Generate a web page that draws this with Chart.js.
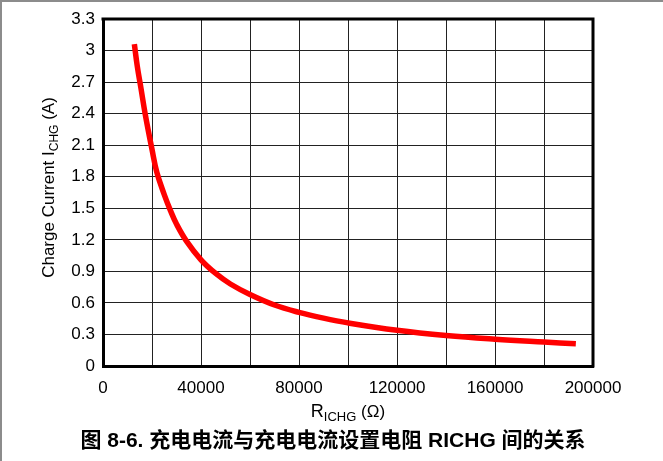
<!DOCTYPE html>
<html>
<head>
<meta charset="utf-8">
<script src="https://cdn.jsdelivr.net/npm/chart.js@4/dist/chart.umd.min.js"></script>
<style>
  html, body { margin: 0; padding: 0; background: #fff; }
  #wrap { position: relative; width: 663px; height: 461px; }
</style>
</head>
<body>
<div id="wrap"><canvas id="c" width="663" height="461"></canvas></div>
<script>
// Charge current versus the ICHG setting resistor
const resistanceOhm  = [12800, 14000, 15500, 17200, 20000, 22000, 25000, 27500, 30000, 34000, 40000, 46000, 52000, 60000, 70000, 80000, 90000, 100000, 120000, 140000, 160000, 180000, 193000];
const chargeCurrentA = [3.06, 2.85, 2.64, 2.40, 2.06, 1.84, 1.63, 1.48, 1.35, 1.19, 1.01, 0.88, 0.78, 0.68, 0.58, 0.51, 0.455, 0.41, 0.34, 0.29, 0.255, 0.228, 0.212];

// Vertical grid every 20000 ohm, labelled every 40000 ohm
const xGridValues = [0, 20000, 40000, 60000, 80000, 100000, 120000, 140000, 160000, 180000, 200000];
const xTickLabels = ['0', '40000', '80000', '120000', '160000', '200000'];
const yTickLabels = ['0', '0.3', '0.6', '0.9', '1.2', '1.5', '1.8', '2.1', '2.4', '2.7', '3', '3.3'];

const FONT = '"Liberation Sans", Arial, "Noto Sans CJK SC", sans-serif';

const points = resistanceOhm.map((r, i) => ({ x: r, y: chargeCurrentA[i] }));

// Draws the frame, the plot box top/right edges, axis titles with subscripts and the caption
const decorations = {
  id: 'decorations',
  beforeDraw(chart) {
    const ctx = chart.ctx;
    ctx.save();
    ctx.fillStyle = '#fff';
    ctx.fillRect(0, 0, chart.width, chart.height);
    ctx.fillStyle = '#8c8c8c';
    ctx.fillRect(0, 0, chart.width, 2);
    ctx.fillRect(0, 0, 2, chart.height);
    ctx.restore();
  },
  afterDraw(chart) {
    const ctx = chart.ctx;
    const a = chart.chartArea;
    ctx.save();
    // top and right edges of the plot box
    ctx.strokeStyle = '#000';
    ctx.lineWidth = 3;
    ctx.beginPath();
    ctx.moveTo(a.left - 1.5, a.top);
    ctx.lineTo(a.right, a.top);
    ctx.lineTo(a.right, a.bottom + 1.5);
    ctx.stroke();

    ctx.fillStyle = '#000';

    // y-axis title: Charge Current I_CHG (A)
    const yParts = [
      { t: 'Charge Current I', f: '17px ' + FONT, dy: 0 },
      { t: 'CHG', f: '12px ' + FONT, dy: 4 },
      { t: ' (A)', f: '17px ' + FONT, dy: 0 }
    ];
    drawRun(ctx, yParts, 48, (a.top + a.bottom) / 2 - 5, true);

    // x-axis title: R_ICHG (Ω)
    const xParts = [
      { t: 'R', f: '18px ' + FONT, dy: 0 },
      { t: 'ICHG', f: '13px ' + FONT, dy: 4 },
      { t: ' (Ω)', f: '17px ' + FONT, dy: 0 }
    ];
    drawRun(ctx, xParts, (a.left + a.right) / 2, 411, false);

    // caption
    ctx.font = 'bold 21px ' + FONT;
    ctx.textAlign = 'center';
    ctx.textBaseline = 'middle';
    ctx.fillText('图 8-6. 充电电流与充电电流设置电阻 RICHG 间的关系', 333, 441);
    ctx.restore();
  }
};

function drawRun(ctx, parts, cx, cy, vertical) {
  let total = 0;
  parts.forEach(p => { ctx.font = p.f; p.w = ctx.measureText(p.t).width; total += p.w; });
  ctx.save();
  ctx.translate(cx, cy);
  if (vertical) ctx.rotate(-Math.PI / 2);
  ctx.textAlign = 'left';
  ctx.textBaseline = 'alphabetic';
  let x = -total / 2;
  parts.forEach(p => {
    ctx.font = p.f;
    ctx.fillText(p.t, x, 6 + p.dy);
    x += p.w;
  });
  ctx.restore();
}

new Chart(document.getElementById('c'), {
  type: 'line',
  data: {
    datasets: [{
      data: points,
      borderColor: '#ff0000',
      borderWidth: 5.5,
      pointRadius: 0,
      fill: false,
      tension: 0.4
    }]
  },
  options: {
    responsive: false,
    animation: false,
    events: [],
    layout: { padding: { left: 0, right: 70, top: 19, bottom: 0 } },
    plugins: { legend: { display: false }, tooltip: { enabled: false } },
    scales: {
      x: {
        type: 'linear',
        min: 0,
        max: 200000,
        afterFit(s) { s.height = 95; },
        afterBuildTicks(s) { s.ticks = xGridValues.map(v => ({ value: v })); },
        ticks: {
          autoSkip: false,
          maxRotation: 0,
          padding: 12,
          color: '#000',
          font: { family: FONT, size: 17 },
          callback(v) { const s = String(v); return xTickLabels.includes(s) ? s : ''; }
        },
        grid: { color: '#222', lineWidth: 1, drawTicks: false },
        border: { color: '#000', width: 3 }
      },
      y: {
        type: 'linear',
        min: 0,
        max: 3.3,
        afterFit(s) { s.width = 103; },
        afterBuildTicks(s) { s.ticks = yTickLabels.map(t => ({ value: parseFloat(t) })); },
        ticks: {
          autoSkip: false,
          padding: 8,
          color: '#000',
          font: { family: FONT, size: 17 },
          callback(v, i) { return yTickLabels[i]; }
        },
        grid: { color: '#222', lineWidth: 1, drawTicks: false },
        border: { color: '#000', width: 3 }
      }
    }
  },
  plugins: [decorations]
});
</script>
</body>
</html>
